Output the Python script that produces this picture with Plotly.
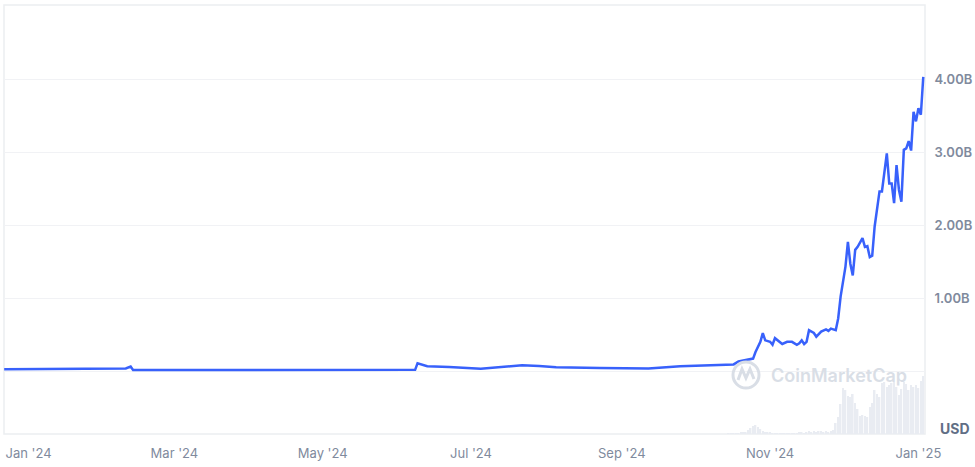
import plotly.graph_objects as go
import pandas as pd

# ---- market cap (USD) ----
cap_dates = [
    "2023-12-22", "2024-01-13", "2024-02-03", "2024-02-10", "2024-02-12", "2024-02-13",
    "2024-06-08", "2024-06-09", "2024-06-13", "2024-06-22", "2024-07-05", "2024-07-15",
    "2024-07-22", "2024-07-29", "2024-08-05", "2024-08-23", "2024-09-12", "2024-09-25",
    "2024-10-10", "2024-10-17", "2024-10-19", "2024-10-24", "2024-10-25", "2024-10-26",
    "2024-10-28", "2024-10-29", "2024-10-30", "2024-11-01", "2024-11-02", "2024-11-03",
    "2024-11-05", "2024-11-06", "2024-11-08", "2024-11-10", "2024-11-12", "2024-11-13",
    "2024-11-14", "2024-11-15", "2024-11-16", "2024-11-17", "2024-11-19", "2024-11-20",
    "2024-11-22", "2024-11-24", "2024-11-25", "2024-11-26", "2024-11-28", "2024-11-29",
    "2024-11-30", "2024-12-02", "2024-12-03", "2024-12-04", "2024-12-05", "2024-12-06",
    "2024-12-07", "2024-12-09", "2024-12-10", "2024-12-11", "2024-12-12", "2024-12-13",
    "2024-12-14", "2024-12-16", "2024-12-17", "2024-12-19", "2024-12-20", "2024-12-21",
    "2024-12-22", "2024-12-23", "2024-12-24", "2024-12-25", "2024-12-26", "2024-12-27",
    "2024-12-28", "2024-12-29", "2024-12-30", "2024-12-31", "2025-01-01", "2025-01-02",
    "2025-01-03",
]
cap_billions = [
    0.025, 0.025, 0.030, 0.035, 0.060, 0.015,
    0.016, 0.105, 0.065, 0.055, 0.030, 0.060,
    0.080, 0.070, 0.050, 0.040, 0.035, 0.065,
    0.080, 0.090, 0.130, 0.160, 0.170, 0.260,
    0.400, 0.520, 0.420, 0.400, 0.360, 0.450,
    0.400, 0.370, 0.400, 0.400, 0.360, 0.380,
    0.420, 0.370, 0.400, 0.560, 0.520, 0.470,
    0.540, 0.570, 0.550, 0.580, 0.560, 0.720,
    1.020, 1.430, 1.770, 1.470, 1.310, 1.660,
    1.700, 1.820, 1.700, 1.710, 1.560, 1.580,
    1.980, 2.460, 2.460, 2.980, 2.570, 2.570,
    2.300, 2.820, 2.480, 2.320, 3.030, 3.050,
    3.150, 3.020, 3.550, 3.420, 3.600, 3.510,
    4.030,
]

# ---- volume (million USD), daily from 2024-10-15 ----
vol_start = "2024-10-15"
vol_musd = [
    10, 10, 10, 10, 10, 20, 20, 20,
    40, 60, 80, 90, 70, 50, 30, 20,
    20, 20, 10, 10, 10, 10, 10, 10,
    10, 10, 10, 10, 10, 20, 20, 10,
    20, 30, 20, 30, 20, 30, 30, 20,
    30, 20, 30, 40, 110, 170, 300, 460,
    440, 380, 370, 400, 310, 250, 180, 190,
    180, 170, 270, 310, 440, 400, 370, 510,
    520, 470, 490, 510, 520, 470, 390, 450,
    520, 500, 440, 490, 470, 490, 460, 530,
    580,
]

y_tick_vals = [0, 1, 2, 3, 4]
y_tick_text = ["", "1.00B", "2.00B", "3.00B", "4.00B"]

vol_dates = pd.date_range(vol_start, periods=len(vol_musd), freq="D")

fig = go.Figure()
fig.add_trace(go.Bar(
    x=vol_dates, y=[v * 1e6 for v in vol_musd], yaxis="y2",
    marker=dict(color="#e9ecf2", line=dict(width=0)),
    hoverinfo="skip", showlegend=False,
))
fig.add_trace(go.Scatter(
    x=cap_dates, y=[v * 1e9 for v in cap_billions], mode="lines",
    line=dict(color="#3861fb", width=2.5), showlegend=False,
))

grey = "#808a9d"
W = 921  # plot width in px
H = 429  # plot height in px


def px(x):
    return (x - 4) / W


def py(y):
    return (434 - y) / H


fig.update_layout(
    width=975, height=467,
    margin=dict(l=4, r=50, t=5, b=33, autoexpand=False),
    paper_bgcolor="white", plot_bgcolor="white",
    font=dict(family="Inter, Roboto, sans-serif", color=grey, size=13),
    bargap=0.35,
    xaxis=dict(
        type="date", range=["2023-12-21 22:00", "2025-01-03 17:00"],
        tickformat="%b '%y", dtick="M2", tick0="2024-01-01",
        showgrid=False, zeroline=False, showline=False,
        ticks="outside", ticklen=7, tickcolor="rgba(0,0,0,0)",
        tickfont=dict(size=13, color=grey),
        automargin=False,
    ),
    yaxis=dict(
        side="right", range=[-0.863e9, 5.014e9],
        tickvals=[v * 1e9 for v in y_tick_vals], ticktext=y_tick_text,
        showgrid=True, gridcolor="#f1f2f5", gridwidth=1,
        zeroline=False, showline=False,
        ticks="outside", ticklen=6, tickcolor="rgba(0,0,0,0)",
        tickfont=dict(size=13, color=grey, weight=600),
        automargin=False,
    ),
    yaxis2=dict(overlaying="y", range=[0, 4.29e9], visible=False),
    shapes=[
        dict(type="rect", xref="paper", yref="paper", x0=0, x1=1, y0=0, y1=1,
             line=dict(color="#eceef1", width=1.5), layer="below"),
        dict(type="circle", xref="paper", yref="paper",
             x0=px(733), x1=px(759), y0=py(388), y1=py(362),
             line=dict(color="#d9dee6", width=3)),
        dict(type="path", xref="paper", yref="paper",
             path=" ".join([
                 "M %.4f %.4f" % (px(738), py(380)),
                 "L %.4f %.4f" % (px(742), py(369)),
                 "L %.4f %.4f" % (px(746), py(378)),
                 "L %.4f %.4f" % (px(750), py(369)),
                 "L %.4f %.4f" % (px(754), py(379)),
             ]),
             line=dict(color="#d9dee6", width=3)),
    ],
    annotations=[
        dict(text="CoinMarketCap", xref="paper", yref="paper",
             x=px(769), y=py(375), xanchor="left", yanchor="middle",
             showarrow=False, font=dict(size=18, color="#d9dee6", weight=600)),
        dict(text="USD", xref="paper", yref="paper",
             x=1, xshift=47, y=py(428), xanchor="right", yanchor="middle",
             showarrow=False, font=dict(size=14, color="#616e85", weight=700)),
    ],
)

fig.write_html(
    "out.html",
    config={"displayModeBar": False},
    post_script="document.body.style.margin='0';document.body.style.padding='0';",
)
